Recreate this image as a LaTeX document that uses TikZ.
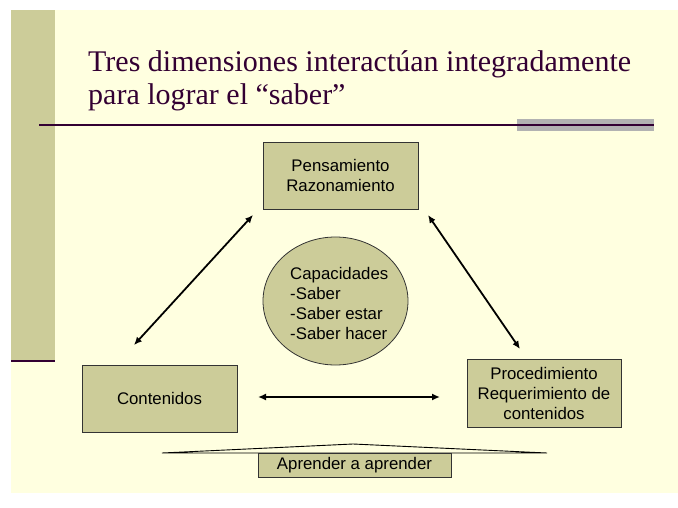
\documentclass[tikz,border=0pt]{standalone}
\usepackage{fontspec}
\setmainfont{Liberation Serif}
\newfontfamily\arialf{Liberation Sans}
\usetikzlibrary{arrows.meta,shapes.geometric}
\definecolor{bgyellow}{HTML}{FFFFE0}
\definecolor{olivebox}{HTML}{CCCC99}
\definecolor{darkpurple}{HTML}{330033}
\definecolor{graybar}{HTML}{B2B2B2}
\tikzset{
  box/.style={draw=black!80, line width=0.8pt, fill=olivebox, inner sep=0pt, align=center, font=\arialf\fontsize{16.8}{20}\selectfont},
  dblarrow/.style={line width=1.8pt, {Latex[length=8pt,width=7pt]}-{Latex[length=8pt,width=7pt]}},
  titletext/.style={anchor=base west, inner sep=0pt, text=darkpurple, font=\fontsize{30}{32}\selectfont}
}
\begin{document}
\begin{tikzpicture}[x=1pt,y=-1pt]
\useasboundingbox (0,0) rectangle (678,508);
% background
\fill[white] (0,0) rectangle (678,508);
\fill[bgyellow] (11,10) rectangle (678,493);
\fill[olivebox] (11,10) rectangle (55,361);
\draw[darkpurple, line width=2.5pt] (11,361) -- (55,361);
% title
\node[titletext] (t1) at (88,72) {Tres dimensiones interactúan integradamente};
\node[titletext] (t2) at (88,105) {para lograr el “saber”};
\fill[graybar] (517,119.5) rectangle (654,131);
\draw[darkpurple, line width=1.3pt] (39,125) -- (654,125);
% boxes
\node[box, minimum width=155pt, minimum height=67pt] (pens) at (340.5,175.5) {Pensamiento\\Razonamiento};
\node[box, minimum width=155pt, minimum height=67pt] (cont) at (159.5,398.5) {Contenidos};
\node[box, minimum width=154pt, minimum height=68pt] (proc) at (544,393) {Procedimiento\\Requerimiento de\\contenidos};
\node[draw=black!80, line width=0.8pt, fill=olivebox, ellipse, minimum width=145pt, minimum height=128pt, inner sep=0pt] (cap) at (335.5,301) {};
\node[anchor=west, align=left, inner sep=0pt, font=\arialf\fontsize{16.8}{20}\selectfont] (captext) at (290,303) {Capacidades\\-Saber\\-Saber estar\\-Saber hacer};
% arrows
\coordinate (a1) at (134,345);
\coordinate (a2) at (253,215);
\coordinate (b1) at (428,215);
\coordinate (b2) at (520,349);
\coordinate (c1) at (258,397);
\coordinate (c2) at (440,397);
\draw[dblarrow] (a1) -- (a2);
\draw[dblarrow] (b1) -- (b2);
\draw[dblarrow] (c1) -- (c2);
% bottom callout
\coordinate (rl) at (162,453);
\coordinate (rp) at (353,444);
\coordinate (rr) at (547,453);
\draw[black, line width=0.9pt, fill=bgyellow] (rl) -- (rp) -- (rr) -- cycle;
\node[box, minimum width=193pt, minimum height=24pt, font=\arialf\fontsize{16.8}{18}\selectfont] (apr) at (354.5,465) {Aprender a aprender};
\end{tikzpicture}
\end{document}
